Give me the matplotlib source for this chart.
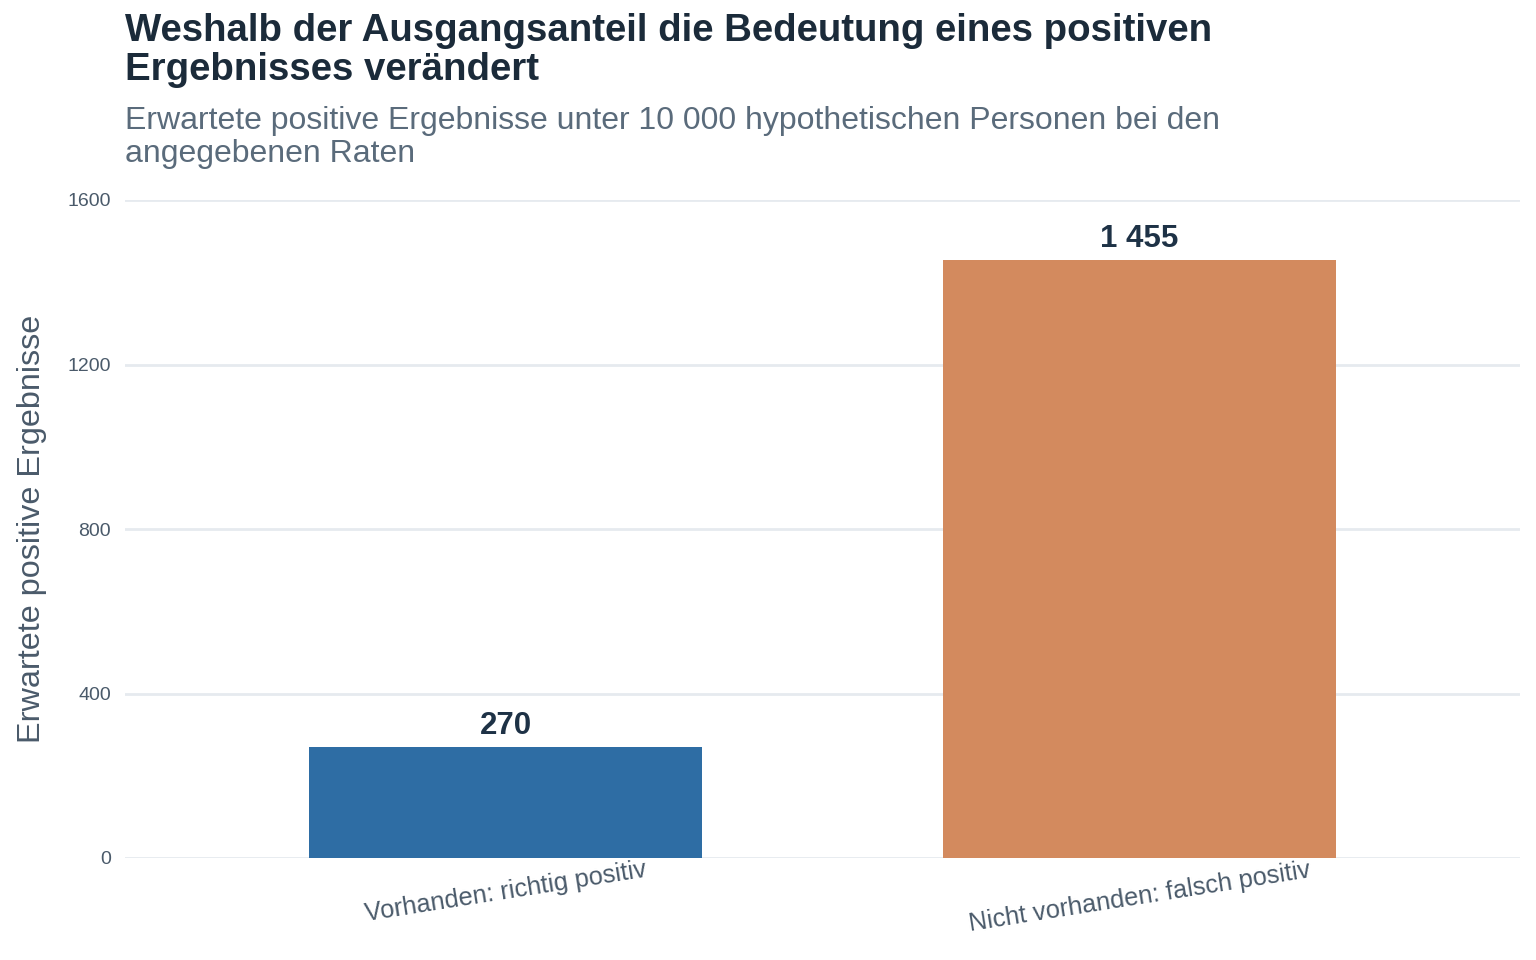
import matplotlib
matplotlib.use("Agg")
import matplotlib.pyplot as plt

plt.rcParams['font.family'] = ['Liberation Sans', 'DejaVu Sans']

# Daten
kategorien = ["Vorhanden: richtig positiv", "Nicht vorhanden: falsch positiv"]
werte = [270, 1455]
beschriftungen = ["270", "1 455"]
farben = ["#2e6da4", "#d38a5e"]
y_ticks = [0, 400, 800, 1200, 1600]

titel = "Weshalb der Ausgangsanteil die Bedeutung eines positiven\nErgebnisses verändert"
untertitel = ("Erwartete positive Ergebnisse unter 10 000 hypothetischen Personen bei den\n"
              "angegebenen Raten")
y_titel = "Erwartete positive Ergebnisse"

fig = plt.figure(figsize=(15.36, 9.6), dpi=100)
ax = fig.add_axes([125 / 1536, 102 / 960, 1395 / 1536, 658 / 960])

pos = list(range(len(kategorien)))
ax.bar(pos, werte, width=0.62, color=farben, zorder=2)

for x, w, t in zip(pos, werte, beschriftungen):
    ax.text(x, w + 14, t, ha='center', va='bottom', fontsize=22.5,
            fontweight='bold', color='#1e3246')

ax.set_xlim(-0.6, 1.6)
ax.set_ylim(0, 1600)
ax.set_yticks(y_ticks)
ax.set_yticklabels([str(v) for v in y_ticks])
ax.set_xticks(pos)
ax.set_xticklabels(kategorien, rotation=9, fontsize=18.3, color='#4a5a6a')
ax.tick_params(axis='y', labelsize=14, labelcolor='#4a5a6a', length=0, pad=10)
ax.tick_params(axis='x', length=0, pad=0)

ax.grid(axis='y', color='#e6eaef', linewidth=2, zorder=0)
ax.set_axisbelow(True)
for s in ax.spines.values():
    s.set_visible(False)

ax.set_ylabel(y_titel, fontsize=23.3, color='#4a5a6a')
ax.yaxis.set_label_coords(-0.056, 0.5)

fig.text(125 / 1536, 1 - 13 / 960, titel, ha='left', va='top', fontsize=27.6,
         fontweight='bold', color='#1b2b3a', linespacing=1.1)
fig.text(125 / 1536, 1 - 106 / 960, untertitel, ha='left', va='top', fontsize=23,
         color='#5a6b7b', linespacing=1.15)

fig.savefig("out.png", dpi=100)
